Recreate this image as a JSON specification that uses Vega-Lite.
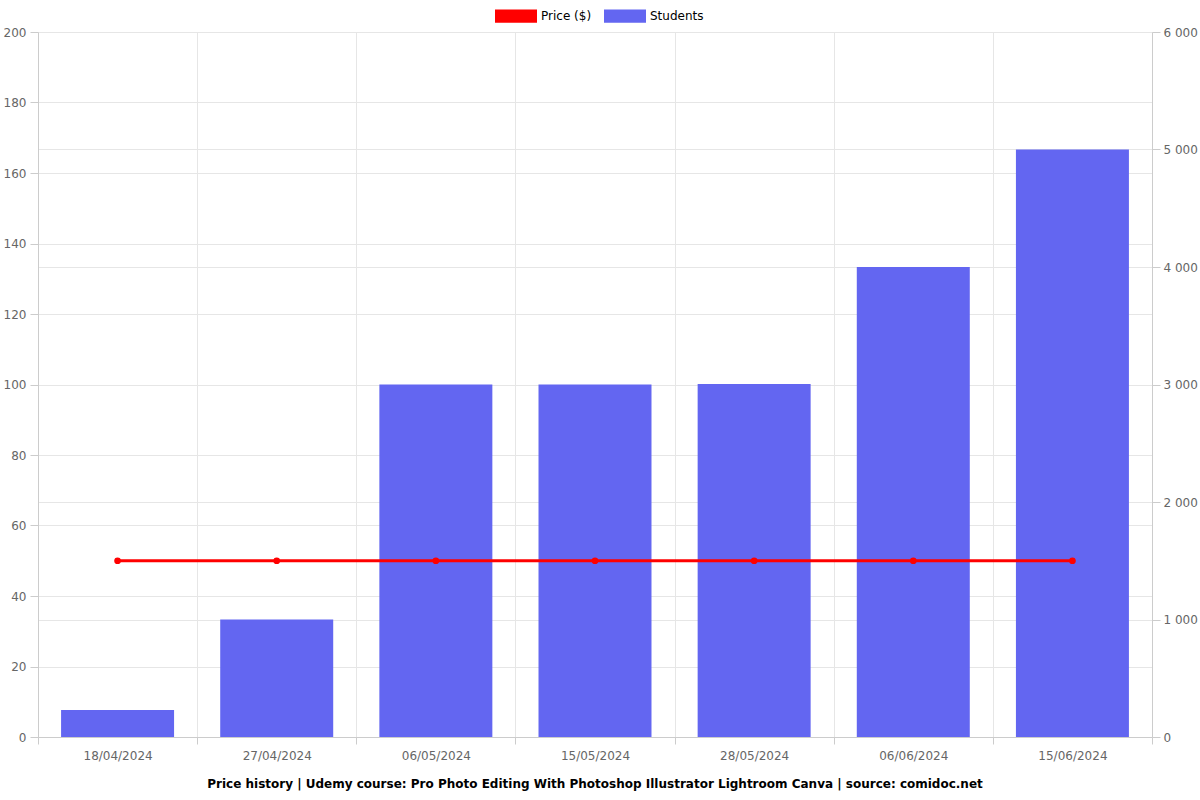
{
  "$schema": "https://vega.github.io/schema/vega-lite/v6.json",
  "width": 1114,
  "height": 705,
  "autosize": {"type": "none"},
  "padding": {"left": 38, "top": 32, "right": 48, "bottom": 63},
  "background": "white",
  "config": {
    "font": "DejaVu Sans",
    "view": {"stroke": null},
    "axis": {
      "labelFont": "DejaVu Sans",
      "labelFontSize": 12,
      "labelColor": "#666666",
      "domainColor": "#cccccc",
      "tickColor": "#cccccc",
      "gridColor": "#e6e6e6",
      "tickSize": 8,
      "titleFontSize": 13
    }
  },
  "title": {
    "text": "Price history | Udemy course: Pro Photo Editing With Photoshop Illustrator Lightroom Canva | source: comidoc.net",
    "orient": "bottom",
    "anchor": "middle",
    "fontSize": 12,
    "fontWeight": "bold",
    "font": "DejaVu Sans",
    "color": "#000000",
    "offset": 18
  },
  "data": {
    "values": [
      {"date": "18/04/2024", "students": 230, "price": 50},
      {"date": "27/04/2024", "students": 1000, "price": 50},
      {"date": "06/05/2024", "students": 3000, "price": 50},
      {"date": "15/05/2024", "students": 3000, "price": 50},
      {"date": "28/05/2024", "students": 3005, "price": 50},
      {"date": "06/06/2024", "students": 4000, "price": 50},
      {"date": "15/06/2024", "students": 5000, "price": 50}
    ]
  },
  "encoding": {
    "x": {
      "field": "date",
      "type": "nominal",
      "sort": null,
      "scale": {"paddingInner": 0, "paddingOuter": 0},
      "axis": {
        "title": null,
        "labelAngle": 0,
        "tickBand": "extent",
        "grid": true,
        "tickSize": 7,
        "labelPadding": 6
      }
    }
  },
  "layer": [
    {
      "mark": {"type": "bar", "width": {"band": 0.71}},
      "encoding": {
        "y": {
          "field": "students",
          "type": "quantitative",
          "scale": {"domain": [0, 6000]},
          "axis": {
            "orient": "right",
            "title": null,
            "values": [0, 1000, 2000, 3000, 4000, 5000, 6000],
            "labelExpr": "replace(format(datum.value, ','), ',', ' ')",
            "grid": true,
            "labelPadding": 3
          }
        },
        "color": {
          "datum": "Students",
          "type": "nominal",
          "scale": {"domain": ["Price ($)", "Students"], "range": ["#ff0000", "#6366f1"]},
          "legend": {
            "orient": "none",
            "legendX": 457,
            "legendY": -37,
            "title": null,
            "direction": "horizontal",
            "symbolType": "M-1,-0.32H1V0.32H-1Z",
            "symbolSize": 1764,
            "symbolStrokeWidth": 0,
            "labelFont": "DejaVu Sans",
            "labelFontSize": 12,
            "labelColor": "#000000",
            "columnPadding": 12
          }
        }
      }
    },
    {
      "mark": {"type": "line", "color": "#ff0000", "strokeWidth": 3, "point": {"size": 45, "color": "#ff0000", "filled": true}},
      "encoding": {
        "y": {
          "field": "price",
          "type": "quantitative",
          "scale": {"domain": [0, 200]},
          "axis": {
            "orient": "left",
            "title": null,
            "values": [0, 20, 40, 60, 80, 100, 120, 140, 160, 180, 200],
            "grid": true,
            "labelPadding": 4
          }
        }
      }
    }
  ],
  "resolve": {"scale": {"y": "independent"}}
}
